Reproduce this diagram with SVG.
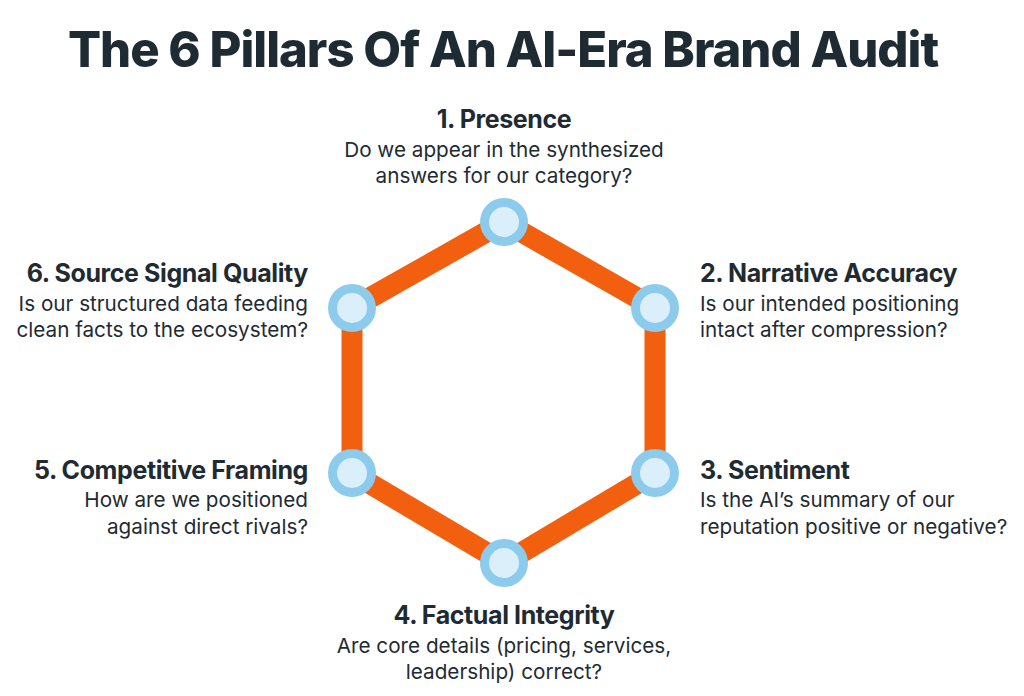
<svg xmlns="http://www.w3.org/2000/svg" width="1024" height="696" viewBox="0 0 1024 696">
<style>
.t{font-family:"Inter","Liberation Sans",sans-serif;fill:#1e2b33}
.title{font-size:49px;font-weight:800;letter-spacing:-1px}
.h{font-size:25px;font-weight:700;letter-spacing:-0.4px}
.b{font-size:20.7px;font-weight:400}
.edge{stroke:#f2600f;stroke-width:21;fill:none;stroke-linejoin:round}
.o{fill:#8ccbec}.i{fill:#dbeffb}
</style>
<rect width="1024" height="696" fill="#fff"/>
<text class="t title" x="503" y="67" text-anchor="middle">The 6 Pillars Of An AI-Era Brand Audit</text>
<g id="connectors">
<polygon class="edge" points="504,222 655,308 655,473 504,563 352,473 352,308"/>
</g>
<g id="n1"><circle class="o" cx="504" cy="222" r="24"/><circle class="i" cx="504" cy="222" r="15"/>
<text class="t h" x="504" y="128" text-anchor="middle">1. Presence</text>
<text class="t b" x="504" y="157" text-anchor="middle">Do we appear in the synthesized</text>
<text class="t b" x="504" y="183" text-anchor="middle">answers for our category?</text></g>
<g id="n2"><circle class="o" cx="655" cy="308" r="24"/><circle class="i" cx="655" cy="308" r="15"/>
<text class="t h" x="700" y="282">2. Narrative Accuracy</text>
<text class="t b" x="700" y="311">Is our intended positioning</text>
<text class="t b" x="700" y="337">intact after compression?</text></g>
<g id="n3"><circle class="o" cx="655" cy="473" r="24"/><circle class="i" cx="655" cy="473" r="15"/>
<text class="t h" x="700" y="479">3. Sentiment</text>
<text class="t b" x="700" y="507">Is the AI’s summary of our</text>
<text class="t b" x="700" y="534">reputation positive or negative?</text></g>
<g id="n4"><circle class="o" cx="504" cy="563" r="24"/><circle class="i" cx="504" cy="563" r="15"/>
<text class="t h" x="504" y="624" text-anchor="middle">4. Factual Integrity</text>
<text class="t b" x="504" y="653" text-anchor="middle">Are core details (pricing, services,</text>
<text class="t b" x="504" y="679" text-anchor="middle">leadership) correct?</text></g>
<g id="n5"><circle class="o" cx="352" cy="473" r="24"/><circle class="i" cx="352" cy="473" r="15"/>
<text class="t h" x="308" y="479" text-anchor="end">5. Competitive Framing</text>
<text class="t b" x="308" y="507" text-anchor="end">How are we positioned</text>
<text class="t b" x="308" y="534" text-anchor="end">against direct rivals?</text></g>
<g id="n6"><circle class="o" cx="352" cy="308" r="24"/><circle class="i" cx="352" cy="308" r="15"/>
<text class="t h" x="308" y="282" text-anchor="end">6. Source Signal Quality</text>
<text class="t b" x="308" y="311" text-anchor="end">Is our structured data feeding</text>
<text class="t b" x="308" y="337" text-anchor="end">clean facts to the ecosystem?</text></g>
</svg>
